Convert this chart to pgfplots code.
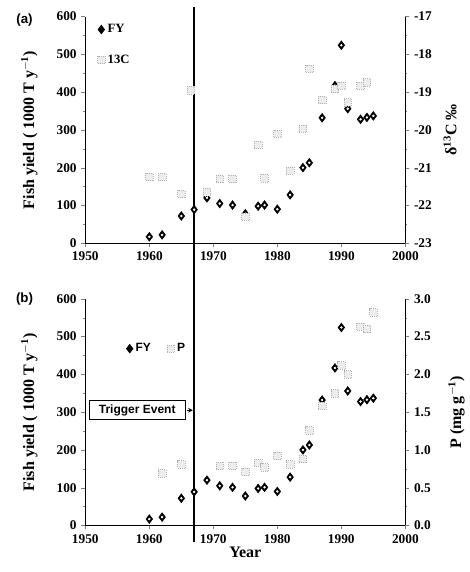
\documentclass[border=0pt]{standalone}
\usepackage{fontspec}
\setmainfont{Liberation Serif}
\setsansfont{Liberation Sans}
\usepackage{pgfplots}
\usepackage{pgfplotstable}
\pgfplotsset{compat=1.18}

% fish yield (1000 T/y)
\pgfplotstableread{
year fy
1960 17
1962 22
1965 72
1967 89
1969 120
1971 105
1973 101
1975 78
1977 98
1978 101
1980 90
1982 128
1984 200
1985 213
1987 332
1989 417
1990 524
1991 356
1993 328
1994 333
1995 337
}\fydata

% delta 13C (permil)
\pgfplotstableread{
year d13c
1960 -21.25
1962 -21.25
1965 -21.70
1966.5 -18.95
1969 -21.65
1971 -21.30
1973 -21.30
1975 -22.30
1977 -20.40
1978 -21.28
1980 -20.10
1982 -21.08
1984 -19.97
1985 -18.38
1987 -19.21
1989 -18.92
1990 -18.83
1991 -19.27
1993 -18.83
1994 -18.74
}\cdata

% P (mg/g)
\pgfplotstableread{
year p
1962 0.69
1965 0.81
1971 0.79
1973 0.79
1975 0.71
1977 0.83
1978 0.77
1980 0.92
1982 0.81
1984 0.88
1985 1.26
1987 1.58
1989 1.75
1990 2.12
1991 2.00
1993 2.63
1994 2.60
1995 2.82
}\pdata

\pgfplotsset{
  panel/.style={
    scale only axis, width=240pt, height=170pt,
    anchor=north west,
    xmin=1950, xmax=2000, xtick={1950,1960,...,2000},
    tick label style={font=\bfseries\fontsize{10}{12}\selectfont},
    /pgf/number format/assume math mode=true,
    /pgf/number format/1000 sep={},
    tick align=outside, major tick length=3pt, minor tick length=1.5pt,
    minor y tick num=1,
    axis line style={line width=0.6pt},
    clip=false,
  },
  fy/.style={only marks, mark=diamond*, mark size=3.3pt, black,
    mark options={fill=black, draw=black}},
  fydot/.style={only marks, mark=*, mark size=0.7pt, forget plot,
    mark options={fill=white, draw=white}},
  gr/.style={only marks, mark=square*, mark size=2.8pt,
    mark options={fill=gray!15, draw=gray!60, densely dotted, line width=0.5pt}},
}

\begin{document}
\begin{tikzpicture}
\useasboundingbox (-64pt,12.4pt) rectangle ++(352.5pt,-429pt);

% ---------- (a) ----------
\begin{axis}[panel, at={(0,0)},
  ymin=0, ymax=600, ytick={0,100,...,600},
  axis x line*=bottom, axis y line*=left,
  ylabel={\bfseries\fontsize{12}{14}\selectfont Fish yield ( 1000 T y$^{\mathbf{-1}}$)},
  ylabel style={at={(axis description cs:-0.175,0.5)}, anchor=center},
  legend style={draw=none, fill=none, at={(rel axis cs:0.025,0.99)}, anchor=north west,
    font=\bfseries\fontsize{9.5}{11}\selectfont, row sep=11pt},
  legend cell align=left,
]
\addplot[fy] table[x=year,y=fy]{\fydata};
\addlegendentry{FY}
\addplot[fydot] table[x=year,y=fy]{\fydata};
\addlegendimage{gr}
\addlegendentry{13C}
\draw[line width=1.5pt] (axis cs:1967,625) -- (axis cs:1967,-160);
\node[font=\sffamily\bfseries\fontsize{10}{12}\selectfont] at (rel axis cs:-0.19,0.985) {(a)};
\end{axis}
\begin{axis}[panel, at={(0,0)},
  ymin=-23, ymax=-17, ytick={-23,-22,...,-17},
  axis x line=none, axis y line*=right,
  ylabel={\bfseries\fontsize{12}{14}\selectfont δ\textsuperscript{13}C ‰},
  ylabel style={at={(axis description cs:1.14,0.5)}, anchor=center},
]
\addplot[gr] table[x=year,y=d13c]{\cdata};
\end{axis}

% ---------- (b) ----------
\begin{axis}[panel, at={(0,-211.7pt)},
  ymin=0, ymax=600, ytick={0,100,...,600},
  axis x line*=bottom, axis y line*=left,
  xlabel={\bfseries\fontsize{12}{14}\selectfont Year},
  xlabel style={yshift=4pt},
  ylabel={\bfseries\fontsize{12}{14}\selectfont Fish yield ( 1000 T y$^{\mathbf{-1}}$)},
  ylabel style={at={(axis description cs:-0.175,0.5)}, anchor=center},
  legend style={draw=none, fill=none, at={(rel axis cs:0.115,0.78)}, anchor=west,
    font=\sffamily\bfseries\fontsize{9}{11}\selectfont,
    /tikz/column 2/.style={column sep=10pt}},
  legend columns=2,
]
\addplot[fy] table[x=year,y=fy]{\fydata};
\addlegendentry{FY}
\addplot[fydot] table[x=year,y=fy]{\fydata};
\addlegendimage{gr}
\addlegendentry{P}
\draw[line width=1.5pt] (axis cs:1967,600) -- (axis cs:1967,-45);
\node[draw, line width=0.6pt, fill=white, inner sep=3pt, minimum height=14pt,
  minimum width=72pt, font=\sffamily\bfseries\fontsize{9}{11}\selectfont]
  at (axis cs:1958.1,305) {Trigger Event};
\draw[-stealth, line width=0.6pt] (axis cs:1965.9,305) -- (axis cs:1966.8,305);
\node[font=\sffamily\bfseries\fontsize{10}{12}\selectfont] at (rel axis cs:-0.19,1.0) {(b)};
\end{axis}
\begin{axis}[panel, at={(0,-211.7pt)},
  ymin=0, ymax=3, ytick={0,0.5,...,3},
  /pgf/number format/.cd, fixed, fixed zerofill, precision=1, /pgfplots/.cd,
  axis x line=none, axis y line*=right,
  ylabel={\bfseries\fontsize{12}{14}\selectfont P (mg g$^{\mathbf{-1}}$)},
  ylabel style={at={(axis description cs:1.16,0.5)}, anchor=center},
]
\addplot[gr] table[x=year,y=p]{\pdata};
\end{axis}
\end{tikzpicture}
\end{document}
